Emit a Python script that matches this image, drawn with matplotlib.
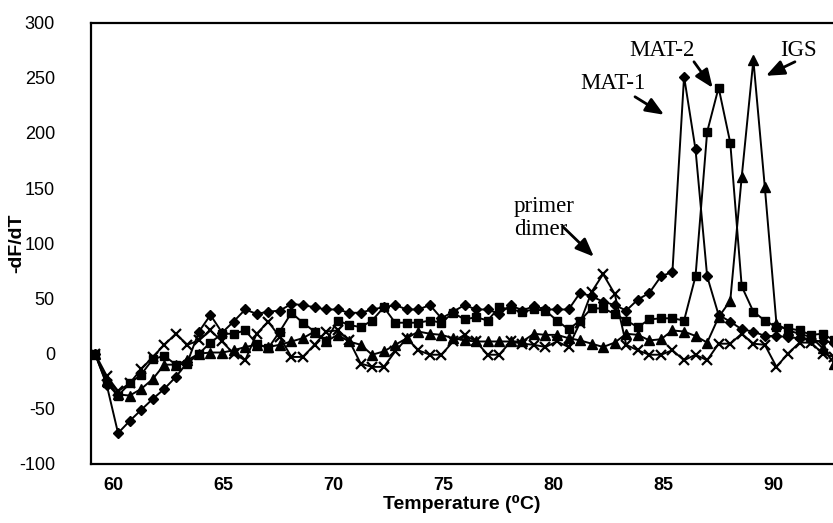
import matplotlib
matplotlib.use("Agg")
import matplotlib.pyplot as plt

plt.rcParams["axes.unicode_minus"] = False

# temperature readings (deg C)
temps = [59.18, 59.71, 60.23, 60.76, 61.28, 61.81, 62.33, 62.86, 63.38, 63.91,
         64.43, 64.96, 65.48, 66.01, 66.53, 67.06, 67.58, 68.11, 68.63, 69.16,
         69.68, 70.21, 70.73, 71.26, 71.78, 72.31, 72.83, 73.36, 73.88, 74.41,
         74.93, 75.46, 75.98, 76.51, 77.03, 77.56, 78.08, 78.61, 79.13, 79.66,
         80.18, 80.71, 81.23, 81.76, 82.28, 82.81, 83.33, 83.86, 84.38, 84.91,
         85.43, 85.96, 86.48, 87.01, 87.53, 88.06, 88.58, 89.11, 89.63, 90.16,
         90.68, 91.21, 91.73, 92.26, 92.78]

mat1 = [0, -28, -72, -61, -51, -41, -32, -21, -8, 20,
        35, 19, 29, 40, 36, 38, 39, 45, 44, 42,
        40, 40, 37, 37, 40, 42, 44, 40, 40, 44,
        32, 38, 44, 40, 40, 36, 44, 39, 43, 40,
        40, 40, 55, 52, 47, 44, 39, 49, 55, 70,
        74, 251, 185, 70, 35, 29, 22, 20, 16, 16,
        15, 14, 12, 11, 10]

mat2 = [0, -27, -38, -27, -19, -5, -2, -10, -9, 0,
        10, 18, 18, 21, 9, 5, 20, 37, 28, 20,
        11, 30, 26, 24, 30, 42, 28, 28, 28, 30,
        28, 37, 31, 33, 30, 42, 40, 38, 40, 39,
        30, 22, 30, 41, 41, 36, 30, 24, 31, 32,
        32, 30, 70, 201, 241, 191, 61, 38, 30, 24,
        23, 21, 17, 18, 12]

igs = [0, -25, -37, -38, -32, -23, -10, -10, -6, 0,
       1, 1, 3, 6, 8, 6, 8, 11, 14, 20,
       11, 17, 11, 8, -1, 2, 8, 14, 20, 18,
       17, 14, 12, 11, 11, 11, 11, 11, 18, 17,
       17, 14, 12, 9, 6, 10, 18, 17, 12, 13,
       21, 20, 16, 10, 33, 48, 160, 266, 151, 27,
       21, 18, 15, 5, -9]

ntc = [0, -20, -34, -27, -14, -3, 8, 18, 8, 12,
       21, 11, 0, -6, 18, 29, 15, -3, -3, 8,
       20, 21, 12, -9, -12, -12, 2, 14, 3, -1,
       -1, 11, 17, 11, -1, -1, 11, 9, 8, 6,
       11, 6, 28, 56, 72, 54, 8, 3, -1, -1,
       3, -6, -1, -6, 9, 9, 18, 9, 8, -12,
       0, 10, 10, 0, -3]

xticks = [60, 65, 70, 75, 80, 85, 90]
yticks = [-100, -50, 0, 50, 100, 150, 200, 250, 300]

fig = plt.figure(figsize=(8.33, 5.23), dpi=100)
ax = fig.add_axes([91 / 833, 59 / 523, 742 / 833, 441.5 / 523])

ax.plot(temps, ntc, color="black", lw=1.4, marker="x", ms=7.5, mew=1.6)
ax.plot(temps, igs, color="black", lw=1.4, marker="^", ms=7)
ax.plot(temps, mat2, color="black", lw=1.4, marker="s", ms=6)
ax.plot(temps, mat1, color="black", lw=1.4, marker="D", ms=5.2)

ax.set_xlim(59, 92.73)
ax.set_ylim(-100, 300)
ax.set_xticks(xticks)
ax.set_yticks(yticks)
ax.tick_params(length=0)
ax.tick_params(axis="x", pad=9)
ax.tick_params(axis="y", pad=26)
for lab in ax.get_xticklabels():
    lab.set_fontfamily("Liberation Sans")
    lab.set_fontweight("bold")
    lab.set_fontsize(13)
for lab in ax.get_yticklabels():
    lab.set_fontfamily("Liberation Sans")
    lab.set_fontsize(13)

for s in ["left", "bottom", "top"]:
    ax.spines[s].set_linewidth(1.6)
ax.spines["right"].set_visible(False)

ax.set_xlabel("Temperature (\u2070C)", family=["Liberation Sans", "DejaVu Sans"],
              fontweight="bold", fontsize=14, labelpad=1)
ax.set_ylabel("-dF/dT", family="Liberation Sans", fontweight="bold", fontsize=14)
ax.yaxis.set_label_coords(-0.088, 0.5)

ann = dict(family="Liberation Serif", fontsize=16.5)
arrow = dict(arrowstyle="-|>,head_length=1.1,head_width=0.45", color="black",
             lw=2, shrinkA=0, shrinkB=0)
ax.annotate("", xy=(85.05, 216.4), xytext=(83.73, 232.7), arrowprops=arrow)
ax.annotate("", xy=(87.26, 240.8), xytext=(86.41, 264.4), arrowprops=arrow)
ax.annotate("", xy=(89.68, 251.7), xytext=(91.0, 264.4), arrowprops=arrow)
ax.annotate("", xy=(81.86, 87.8), xytext=(80.45, 115), arrowprops=arrow)

ax.text(82.73, 245, "MAT-1", ha="center", va="center", **ann)
ax.text(84.95, 275, "MAT-2", ha="center", va="center", **ann)
ax.text(91.14, 275, "IGS", ha="center", va="center", **ann)
ax.text(78.23, 123, "primer\ndimer", ha="left", va="center", linespacing=1.1, **ann)

fig.savefig("out.png", dpi=100)
